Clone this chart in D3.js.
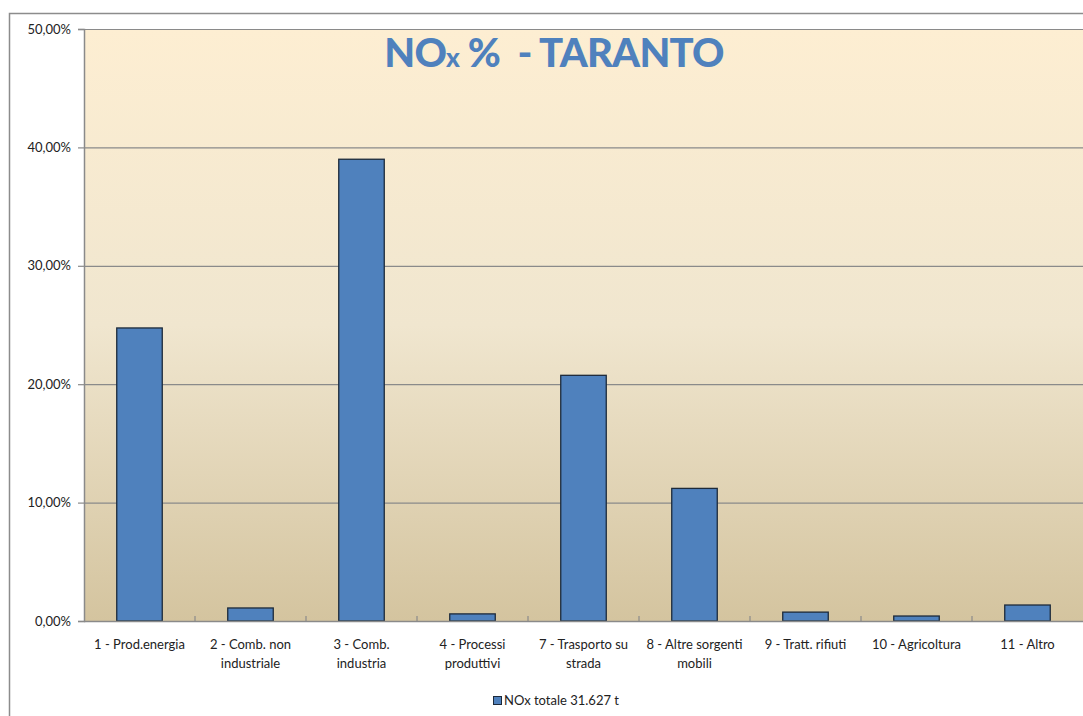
<!DOCTYPE html>
<html><head><meta charset="utf-8">
<script src="https://cdn.jsdelivr.net/npm/d3@7"></script>
<style>body{margin:0;background:#fff;overflow:hidden}svg{display:block}</style>
</head><body>
<script>
const categories = [
  ["1 - Prod.energia"],
  ["2 - Comb. non", "industriale"],
  ["3 - Comb.", "industria"],
  ["4 - Processi", "produttivi"],
  ["7 - Trasporto su", "strada"],
  ["8 - Altre sorgenti", "mobili"],
  ["9 - Tratt. rifiuti"],
  ["10 - Agricoltura"],
  ["11 - Altro"]
];
const values = [24.75, 1.1, 39.0, 0.6, 20.75, 11.2, 0.75, 0.42, 1.35];
const yTicks = [0, 10, 20, 30, 40, 50];
const seriesName = "NOx totale 31.627 t";

const W = 1083, H = 716;
const m = {l: 84, t: 29, r: 0};
const y0 = 621;
const svg = d3.select("body").append("svg").attr("width", W).attr("height", H);
const defs = svg.append("defs");
const g1 = defs.append("linearGradient").attr("id","bg").attr("x1",0).attr("y1",0).attr("x2",0).attr("y2",1);
g1.append("stop").attr("offset","0%").attr("stop-color","#FDEED2");
g1.append("stop").attr("offset","50%").attr("stop-color","#F0E6CF");
g1.append("stop").attr("offset","100%").attr("stop-color","#D4C49F");

// outer chart border
svg.append("rect").attr("x",9.5).attr("y",13.5).attr("width",W+20).attr("height",H+20)
  .attr("fill","#fff").attr("stroke","#8c8c8c").attr("stroke-width",1.5);

const x = d3.scaleBand().domain(d3.range(categories.length)).range([m.l, W - m.r]).paddingInner(0.59).paddingOuter(0.295);
const xb = d3.scaleBand().domain(d3.range(categories.length)).range([m.l, W - m.r]);
const y = d3.scaleLinear().domain([0, 50]).range([y0, m.t]);

svg.append("rect").attr("x", m.l).attr("y", m.t).attr("width", W - m.l + 5).attr("height", y0 - m.t).attr("fill","url(#bg)");

// gridlines
svg.append("g").selectAll("line").data(yTicks.filter(d=>d>0)).join("line")
  .attr("x1", m.l).attr("x2", W).attr("y1", d=>y(d)+0.5).attr("y2", d=>y(d)+0.5)
  .attr("stroke","#8a8a8a").attr("stroke-width",1.2);

// bars
svg.append("g").selectAll("rect").data(values).join("rect")
  .attr("x", (d,i)=>x(i)).attr("width", x.bandwidth())
  .attr("y", d=>y(d)).attr("height", d=>y0 - y(d))
  .attr("fill","#4F81BD").attr("stroke","#1d2a3a").attr("stroke-width",1.3);

// y axis
const yAxis = d3.axisLeft(y).tickValues(yTicks).tickSize(6).tickPadding(7)
  .tickFormat(d => d3.format(".2f")(d).replace(".", ",") + "%");
const ya = svg.append("g").attr("transform",`translate(${m.l},0)`).call(yAxis);
ya.select(".domain").attr("stroke","#8a8a8a").attr("stroke-width",1.5);
ya.selectAll(".tick line").attr("stroke","#8a8a8a").attr("stroke-width",1.2);
ya.selectAll("text").attr("font-family","Lato, 'Open Sans', sans-serif").attr("font-size",13).attr("fill","#222");

// x axis line
svg.append("line").attr("x1",m.l).attr("x2",W).attr("y1",y0+0.5).attr("y2",y0+0.5).attr("stroke","#8a8a8a").attr("stroke-width",1.5);
// category ticks (inside)
svg.append("g").selectAll("line").data(d3.range(1, categories.length)).join("line")
  .attr("x1", i=>xb(i)).attr("x2", i=>xb(i)).attr("y1", y0).attr("y2", y0-5)
  .attr("stroke","#8a8a8a").attr("stroke-width",1.2);

// category labels
const lab = svg.append("g").selectAll("text").data(categories).join("text")
  .attr("x",(d,i)=>xb(i)+xb.bandwidth()/2).attr("y", 649)
  .attr("text-anchor","middle").attr("font-family","Lato, 'Open Sans', sans-serif").attr("font-size",13).attr("fill","#222");
lab.each(function(d){
  const t = d3.select(this);
  d.forEach((s,k)=> t.append("tspan").attr("x", t.attr("x")).attr("dy", k===0?0:19).text(s));
});

// title
const title = svg.append("text").attr("x", 554).attr("y", 67).attr("text-anchor","middle")
  .attr("font-family","Lato, 'Open Sans', sans-serif").attr("font-weight",900).attr("font-size",40)
  .attr("fill","#4F81BD").attr("letter-spacing",-0.8).style("white-space","pre");
title.append("tspan").text("NO");
title.append("tspan").attr("font-size",26).text("x");
title.append("tspan").text(" %  - TARANTO");

// legend
const lg = svg.append("g");
lg.append("rect").attr("x",493.5).attr("y",696.5).attr("width",8).attr("height",8).attr("fill","#4F81BD").attr("stroke","#1d2a3a").attr("stroke-width",1);
lg.append("text").attr("x",504).attr("y",705).attr("font-family","Lato, 'Open Sans', sans-serif").attr("font-size",13).attr("fill","#222").text(seriesName);
</script>
</body></html>
